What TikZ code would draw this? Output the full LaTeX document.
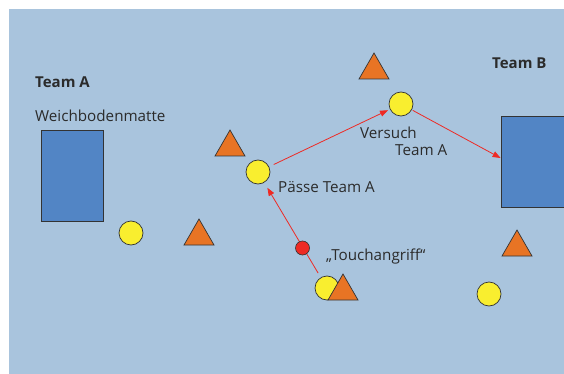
\documentclass[tikz,border=0pt]{standalone}
\usepackage{fontspec}
\setmainfont{Open Sans}
\usetikzlibrary{arrows.meta}
\definecolor{bgblue}{HTML}{A9C4DD}
\definecolor{matblue}{HTML}{5285C5}
\definecolor{ballyellow}{HTML}{F9EE2F}
\definecolor{conorange}{HTML}{E87424}
\definecolor{passred}{HTML}{EE2A24}
\definecolor{txtgray}{HTML}{2B2B2B}
\begin{document}
\begin{tikzpicture}[x=1pt,y=-1pt,
  mat/.style={draw=black!80, line width=0.8pt, fill=matblue, inner sep=0pt},
  ball/.style={circle, draw=black!80, line width=0.7pt, fill=ballyellow, minimum size=24pt, inner sep=0pt},
  reddot/.style={circle, draw=black!80, line width=0.6pt, fill=passred, minimum size=14pt, inner sep=0pt},
  lbl/.style={anchor=west, inner sep=0pt, text=txtgray, font=\fontsize{15.2}{17}\selectfont},
  pass/.style={draw=passred, line width=0.8pt, -{Triangle[length=8pt,width=6pt]}},
  tri/.pic={\draw[draw=black!80, line width=0.7pt, fill=conorange, line join=miter] (-15,13) -- (0,-13) -- (15,13) -- cycle;}
]
\useasboundingbox (0,0) rectangle (564,374);
\fill[bgblue] (9,9) rectangle (564,374);

% mats
\node[mat, minimum width=62pt, minimum height=91pt] (matA) at (72,175.5) {};
\node[mat, minimum width=63pt, minimum height=91pt] (matB) at (532.5,161.5) {};

% labels
\node[lbl, font=\fontsize{15}{17}\selectfont\bfseries] (teamA) at (35,82) {Team A};
\node[lbl] (weich) at (35,116) {Weichbodenmatte};
\node[lbl, font=\fontsize{15}{17}\selectfont\bfseries] (teamB) at (492,63) {Team B};
\node[lbl] (versuch) at (360,133) {Versuch};
\node[lbl] (versuchB) at (395,150) {Team A};
\node[lbl] (paesse) at (278,187) {Pässe Team A};
\node[lbl] (touch) at (326,257) {„Touchangriff“};

% players
\node[ball] (p0) at (131,233) {};
\node[ball] (p1) at (258,172) {};
\node[ball] (p2) at (401,104) {};
\node[ball] (p3) at (327,288) {};
\node[ball] (p4) at (489,294) {};

% cones
\pic at (199,232) {tri};
\pic at (230,143) {tri};
\pic at (374,66) {tri};
\pic at (517,243) {tri};

% passes
\draw[pass, shorten <=5pt, shorten >=2pt] (p1) -- (p2);
\draw[pass, shorten <=1pt, shorten >=0pt] (p2) -- ([yshift=3.5pt]matB.west);
\draw[pass, shorten <=5pt, shorten >=6pt] (p3) -- (p1);
\node[reddot] (ball) at (302.5,248) {};

\pic at (343,287) {tri};
\end{tikzpicture}
\end{document}
